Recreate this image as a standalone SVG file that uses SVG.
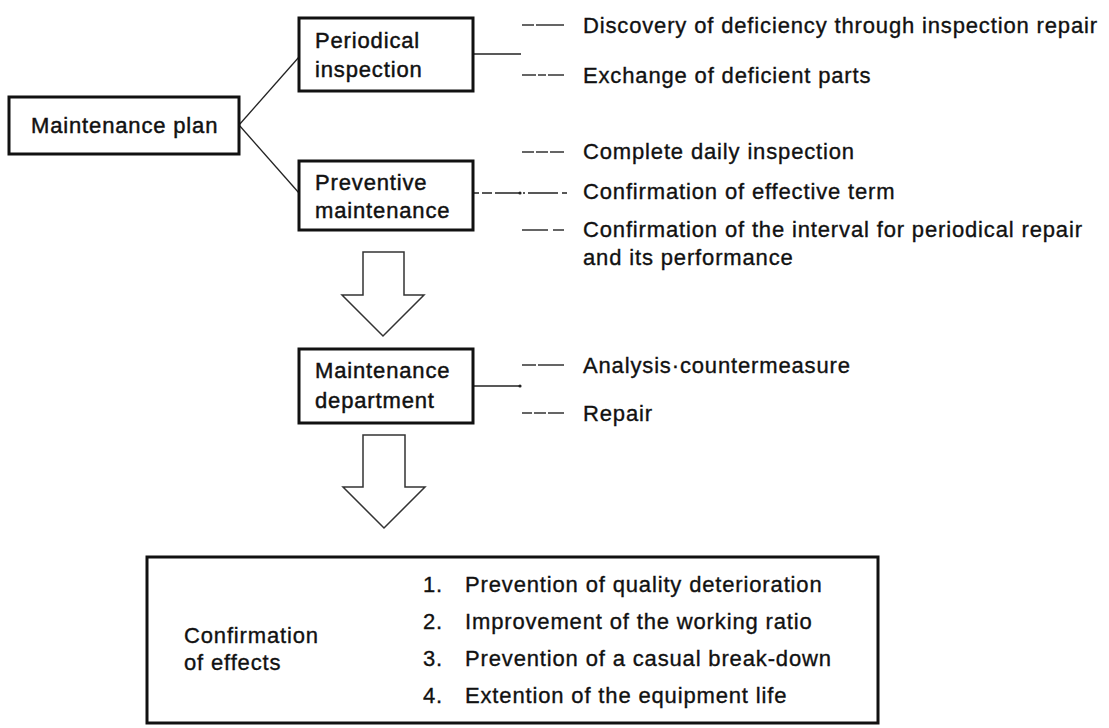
<svg xmlns="http://www.w3.org/2000/svg" width="1109" height="728" viewBox="0 0 1109 728">
  <style>
    .box { fill: #fff; stroke: #111; stroke-width: 3; }
    .lbl { font-family: "Liberation Sans", Arial, sans-serif; font-size: 22px; letter-spacing: 0.85px; fill: #111; stroke: #111; stroke-width: 0.35; }
    .hd { stroke-width: 0.45; }
    .wire { fill: none; stroke: #222; stroke-width: 1.3; }
    .tick { fill: none; stroke: #333; stroke-width: 1.3; }
    .blk { fill: #fff; stroke: #333; stroke-width: 1.5; stroke-linejoin: miter; }
  </style>
  <rect width="1109" height="728" fill="#fff"/>

  <!-- connectors -->
  <g id="connectors">
    <line class="wire" x1="239" y1="125" x2="299" y2="57"/>
    <line class="wire" x1="239" y1="125" x2="299" y2="193"/>
    <line class="wire" x1="473" y1="54" x2="521" y2="54"/>
    <path class="wire" d="M473 193 H567" stroke-dasharray="6 3 10 3 25 3 2 3 30 4 8"/>
    <circle cx="520" cy="193" r="1.6" fill="#222"/>
    <line class="wire" x1="473" y1="386" x2="520" y2="386"/>
    <circle cx="520" cy="386" r="1.6" fill="#222"/>

    <!-- leader ticks in front of the item texts -->
    <line class="tick" x1="522" y1="25" x2="564" y2="25" stroke-dasharray="12 2 40"/>
    <line class="tick" x1="522" y1="75" x2="564" y2="75" stroke-dasharray="14 2 8 2 30"/>
    <line class="tick" x1="522" y1="152" x2="564" y2="152" stroke-dasharray="12 2 12 2 30"/>
    <line class="tick" x1="522" y1="230" x2="564" y2="230" stroke-dasharray="26 5 11"/>
    <line class="tick" x1="522" y1="365" x2="564" y2="365" stroke-dasharray="14 2 40"/>
    <line class="tick" x1="522" y1="413" x2="564" y2="413" stroke-dasharray="10 2 12 2 30"/>

    <!-- block arrows -->
    <path class="blk" d="M363 252 H404 V295 H424 L383 336 L342 295 H363 Z"/>
    <path class="blk" d="M363 435 H405 V487 H425 L384 528 L343 487 H363 Z"/>
  </g>

  <g id="maintenance-plan">
    <rect class="box" x="9" y="97" width="230" height="57"/>
    <text class="lbl hd" x="31" y="133">Maintenance plan</text>
  </g>

  <g id="periodical-inspection">
    <rect class="box" x="299" y="18" width="174" height="73"/>
    <text class="lbl hd" x="315" y="48">Periodical</text>
    <text class="lbl hd" x="315" y="77">inspection</text>
  </g>

  <g id="preventive-maintenance">
    <rect class="box" x="299" y="161" width="174" height="69"/>
    <text class="lbl hd" x="315" y="190">Preventive</text>
    <text class="lbl hd" x="315" y="218">maintenance</text>
  </g>

  <g id="maintenance-department">
    <rect class="box" x="299" y="349" width="174" height="74"/>
    <text class="lbl hd" x="315" y="378">Maintenance</text>
    <text class="lbl hd" x="315" y="408">department</text>
  </g>

  <g id="periodical-items">
    <text class="lbl" x="583" y="33">Discovery of deficiency through inspection repair</text>
    <text class="lbl" x="583" y="83">Exchange of deficient parts</text>
  </g>

  <g id="preventive-items">
    <text class="lbl" x="583" y="159">Complete daily inspection</text>
    <text class="lbl" x="583" y="199">Confirmation of effective term</text>
    <text class="lbl" x="583" y="237">Confirmation of the interval for periodical repair</text>
    <text class="lbl" x="583" y="265">and its performance</text>
  </g>

  <g id="department-items">
    <text class="lbl" x="583" y="373">Analysis·countermeasure</text>
    <text class="lbl" x="583" y="421">Repair</text>
  </g>

  <g id="confirmation-of-effects">
    <rect class="box" x="147" y="557" width="731" height="166"/>
    <text class="lbl" x="184" y="643">Confirmation</text>
    <text class="lbl" x="184" y="670">of effects</text>
    <text class="lbl" x="423" y="592">1.</text>
    <text class="lbl" x="465" y="592">Prevention of quality deterioration</text>
    <text class="lbl" x="423" y="629">2.</text>
    <text class="lbl" x="465" y="629">Improvement of the working ratio</text>
    <text class="lbl" x="423" y="666">3.</text>
    <text class="lbl" x="465" y="666">Prevention of a casual break-down</text>
    <text class="lbl" x="423" y="703">4.</text>
    <text class="lbl" x="465" y="703">Extention of the equipment life</text>
  </g>
</svg>
